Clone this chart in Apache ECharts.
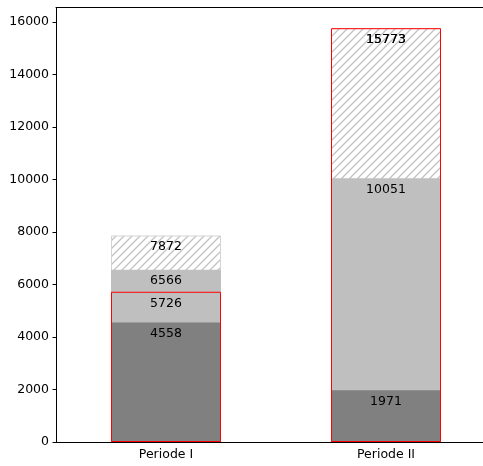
<!DOCTYPE html>
<html>
<head>
<meta charset="utf-8">
<script src="https://cdn.jsdelivr.net/npm/echarts@6/dist/echarts.min.js"></script>
<style>
  html, body { margin: 0; padding: 0; background: #fff; }
  #chart { width: 483px; height: 466px; }
</style>
</head>
<body>
<div id="chart"></div>
<script>
// Periods and the values drawn per period
const categories = ['Periode I', 'Periode II'];
const totalValues = [7872, 15773];      // hatched, full height
const middleValues = [6566, 10051];     // light grey
const baseValues = [4558, 1971];        // dark grey
const outlinedValues = [5726, 15773];   // red frame
const yTicks = [0, 2000, 4000, 6000, 8000, 10000, 12000, 14000, 16000];

// Diagonal hatch tile ("//")
function hatchTile() {
  const s = 8;
  const c = document.createElement('canvas');
  c.width = s; c.height = s;
  const g = c.getContext('2d');
  g.fillStyle = '#ffffff';
  g.fillRect(0, 0, s, s);
  g.strokeStyle = '#c2c2c2';
  g.lineWidth = 1.3;
  g.beginPath();
  g.moveTo(-1, s + 1); g.lineTo(s + 1, -1);
  g.moveTo(-1, 1); g.lineTo(1, -1);
  g.moveTo(s - 1, s + 1); g.lineTo(s + 1, s - 1);
  g.stroke();
  return c;
}

const fontFamily = 'DejaVu Sans';
const fontSize = 12.5;
const yMax = totalValues.reduce((a, b) => Math.max(a, b), 0) * 1.05;

const labelStyle = {
  show: true,
  position: 'insideTop',
  distance: 5,
  color: '#000',
  fontFamily: fontFamily,
  fontSize: fontSize
};

const chart = echarts.init(document.getElementById('chart'), null, { renderer: 'canvas' });
chart.setOption({
  backgroundColor: '#ffffff',
  animation: false,
  grid: { left: 56, top: 7.5, width: 440, height: 434.5, outerBoundsMode: 'none', containLabel: false },
  xAxis: [
    {
      type: 'category',
      data: categories,
      axisLine: { lineStyle: { color: '#000', width: 1 } },
      axisTick: { alignWithLabel: true, length: 3.5, lineStyle: { color: '#000' } },
      axisLabel: { color: '#000', fontFamily: fontFamily, fontSize: fontSize, margin: 6 }
    },
    {
      type: 'category',
      position: 'top',
      data: categories,
      axisLine: { lineStyle: { color: '#000', width: 1 } },
      axisTick: { show: false },
      axisLabel: { show: false }
    }
  ],
  yAxis: {
    type: 'value',
    min: 0,
    max: yMax,
    interval: 2000,
    splitLine: { show: false },
    axisLine: { show: true, lineStyle: { color: '#000', width: 1 } },
    axisTick: { show: true, length: 3.5, lineStyle: { color: '#000' } },
    axisLabel: {
      color: '#000', fontFamily: fontFamily, fontSize: fontSize, margin: 7,
      showMaxLabel: false,
      formatter: v => (yTicks.indexOf(v) >= 0 ? String(v) : '')
    }
  },
  series: [
    {
      type: 'bar', name: 'total', data: totalValues,
      barWidth: '50%', barGap: '-100%',
      itemStyle: { color: { image: hatchTile(), repeat: 'repeat' }, borderColor: '#d3d3d3', borderWidth: 1 },
      label: labelStyle
    },
    {
      type: 'bar', name: 'middle', data: middleValues,
      barWidth: '50%', barGap: '-100%',
      itemStyle: { color: '#bfbfbf' },
      label: labelStyle
    },
    {
      type: 'bar', name: 'base', data: baseValues,
      barWidth: '50%', barGap: '-100%',
      itemStyle: { color: '#808080' },
      label: labelStyle
    },
    {
      type: 'bar', name: 'outlined', data: outlinedValues,
      barWidth: '50%', barGap: '-100%',
      itemStyle: { color: 'rgba(0,0,0,0)', borderColor: '#ff0000', borderWidth: 1 },
      label: labelStyle
    }
  ]
});
</script>
</body>
</html>
